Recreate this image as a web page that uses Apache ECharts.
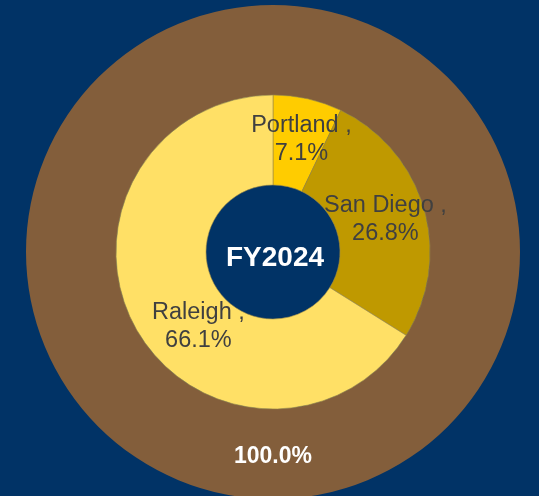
<!DOCTYPE html>
<html>
<head>
<meta charset="utf-8">
<script src="https://cdn.jsdelivr.net/npm/echarts@6/dist/echarts.min.js"></script>
<style>
  html, body { margin: 0; padding: 0; background: #013366; }
  #chart { width: 539px; height: 496px; }
</style>
</head>
<body>
<div id="chart"></div>
<script>
// inner ring: share by city
const cities = ['Portland', 'San Diego', 'Raleigh']
const cityShares = [7.1, 26.8, 66.1]
const cityColors = ['#FFCC00', '#BF9900', '#FFE066']
// outer ring: total
const totalShare = [100.0]
const centerTitle = 'FY2024'

const myChart = echarts.init(document.getElementById('chart'))

const option = {
    backgroundColor: '#013366',
    animation: false,
    title: {
        text: centerTitle,
        left: 270,
        top: 253,
        textAlign: 'center',
        textVerticalAlign: 'middle',
        textStyle: {
            color: '#ffffff',
            fontSize: 28,
            fontWeight: 'bold',
            fontFamily: 'Liberation Sans, Arial, sans-serif'
        }
    },
    series: [
        {
            name: 'total',
            type: 'pie',
            center: [273, 252],
            radius: [157, 247],
            startAngle: 90,
            silent: true,
            data: totalShare.map(v => ({ value: v, name: 'Total' })),
            itemStyle: { color: '#835E3B' },
            label: {
                show: true,
                position: 'inside',
                formatter: p => p.value.toFixed(1) + '%',
                color: '#ffffff',
                fontSize: 23,
                fontWeight: 'bold',
                fontFamily: 'Liberation Sans, Arial, sans-serif'
            },
            labelLine: { show: false }
        },
        {
            name: 'cities',
            type: 'pie',
            center: [273, 252],
            radius: [67, 157],
            startAngle: 90,
            clockwise: true,
            silent: true,
            data: cities.map((c, i) => ({
                name: c,
                value: cityShares[i],
                itemStyle: { color: cityColors[i] }
            })),
            itemStyle: {
                borderColor: '#9c8a4a',
                borderWidth: 0.6
            },
            label: {
                show: true,
                position: 'inside',
                formatter: p => p.name + ' ,\n' + p.value.toFixed(1) + '%',
                color: '#404040',
                fontSize: 23.5,
                lineHeight: 28,
                fontFamily: 'Liberation Sans, Arial, sans-serif'
            },
            labelLayout: params => {
                if (params.dataIndex === 2) return { dx: 26, dy: 19 }
                if (params.dataIndex === 1) return { dx: 2, dy: 0 }
                return { dx: 3, dy: 0 }
            },
            labelLine: { show: false }
        }
    ]
}

myChart.setOption(option)
</script>
</body>
</html>
